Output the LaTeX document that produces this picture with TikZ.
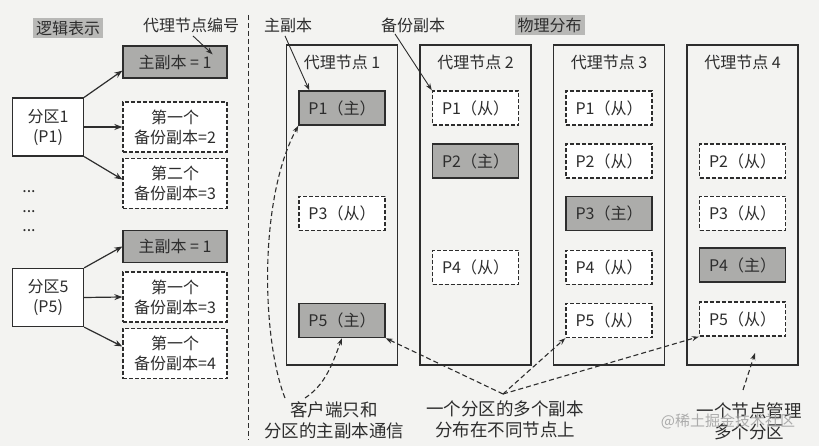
\documentclass[tikz,border=0pt]{standalone}
\usepackage{fontspec}
\setmainfont{Noto Sans CJK SC}
\usetikzlibrary{arrows.meta,calc}
\definecolor{bg}{RGB}{243,243,241}
\definecolor{prim}{RGB}{172,172,170}
\definecolor{lab}{RGB}{184,184,182}
\definecolor{edge}{RGB}{45,45,45}
\definecolor{ink}{RGB}{45,45,45}
\begin{document}
\begin{tikzpicture}[x=1pt,y=-1pt,
  font=\fontsize{16}{20}\selectfont, text=ink,
  box/.style={draw=edge, line width=1.3pt, minimum width=104pt, align=center, inner sep=0pt},
  primbox/.style={box, fill=prim, minimum height=32pt},
  backbox/.style={box, dashed, dash pattern=on 4pt off 2pt, fill=white, minimum height=50pt},
  partbox/.style={draw=edge, line width=1.2pt, fill=white, minimum width=71pt, minimum height=58pt, align=center, inner sep=0pt},
  nodebox/.style={draw=edge, line width=1.2pt, minimum width=111pt, minimum height=320pt, inner sep=0pt},
  rep/.style={draw=edge, line width=1.4pt, minimum width=86pt, minimum height=34pt, inner sep=0pt},
  pr/.style={rep, fill=prim},
  bk/.style={rep, fill=white, dashed, dash pattern=on 4pt off 2pt},
  arr/.style={-{Stealth[length=8pt,width=6pt]}, line width=1.2pt, draw=edge},
  thinarr/.style={-{Stealth[length=7pt,width=5pt,open]}, line width=0.9pt, draw=edge},
  darr/.style={-{Stealth[length=7pt,width=5pt]}, line width=1.1pt, draw=edge, dashed, dash pattern=on 5pt off 3pt},
  tag/.style={fill=lab, inner sep=3pt},
  note/.style={align=center, font=\fontsize{17.5}{21}\selectfont, inner sep=2pt}
]
\fill[bg] (0,0) rectangle (819,446);
\useasboundingbox (0,0) rectangle (819,446);

% ---------- logical view ----------
\node[tag] (logic) at (68,28) {逻辑表示};
\node (numlbl) at (191,25) {代理节点编号};

\node[primbox] (prim1) at (175,62) {主副本 = 1};
\node[partbox] (part1) at (48,127) {分区1\\(P1)};
\node[backbox] (b1a) at (175,127) {第一个\\备份副本=2};
\node[backbox] (b1b) at (175,183.5) {第二个\\备份副本=3};

\node (dots1) at (29,192) {...};
\node (dots2) at (29,212) {...};
\node (dots3) at (29,231) {...};

\node[primbox] (prim5) at (175,246.5) {主副本 = 1};
\node[partbox] (part5) at (48,297.5) {分区5\\(P5)};
\node[backbox] (b5a) at (175,297) {第一个\\备份副本=3};
\node[backbox] (b5b) at (175,353.5) {第一个\\备份副本=4};

\draw[arr] (part1.north east) -- ($(prim1.south west)+(0,-8)$);
\draw[arr] (part1.east) -- (b1a.west);
\draw[arr] (part1.south east) -- ($(b1b.west)+(0,-4)$);
\draw[arr] (part5.north east) -- (prim5.west);
\draw[arr] (part5.east) -- (b5a.west);
\draw[arr] (part5.south east) -- ($(b5b.west)+(0,-7)$);
\draw[thinarr] ($(numlbl.south)+(2,0)$) -- ($(prim1.north east)+(-15,9)$);

% divider
\coordinate (dtop) at (248,15);
\coordinate (dbot) at (248,440);
\draw[draw=edge, line width=1pt, dashed, dash pattern=on 5pt off 3pt] (dtop) -- (dbot);

% ---------- physical view ----------
\node (mainlbl) at (288,25) {主副本};
\node (backlbl) at (413,25) {备份副本};
\node[tag] (phys) at (549.5,25) {物理分布};

\foreach \i/\x in {1/342,2/475.5,3/609,4/742.5}{
  \node[nodebox] (n\i) at (\x,205) {};
  \node (t\i) at (\x,62) {代理节点 \i};
}

% node 1
\node[pr] (n1p1) at (342,108) {P1（主）};
\node[bk] (n1p3) at (342,213.5) {P3（从）};
\node[pr] (n1p5) at (342,320.5) {P5（主）};
% node 2
\node[bk] (n2p1) at (475.5,108) {P1（从）};
\node[pr] (n2p2) at (475.5,161) {P2（主）};
\node[bk] (n2p4) at (475.5,267.5) {P4（从）};
% node 3
\node[bk] (n3p1) at (609,108) {P1（从）};
\node[bk] (n3p2) at (609,161) {P2（从）};
\node[pr] (n3p3) at (609,213.5) {P3（主）};
\node[bk] (n3p4) at (609,267.5) {P4（从）};
\node[bk] (n3p5) at (609,320.5) {P5（从）};
% node 4
\node[bk] (n4p2) at (742.5,161) {P2（从）};
\node[bk] (n4p3) at (742.5,213.5) {P3（从）};
\node[pr] (n4p4) at (742.5,265) {P4（主）};
\node[bk] (n4p5) at (742.5,319) {P5（从）};

\draw[thinarr] ($(mainlbl.south)+(-3,0)$) -- ($(n1p1.north west)+(11,0)$);
\draw[thinarr] ($(backlbl.south)+(-18,-2)$) -- (n2p1.north west);

% notes
\node[note] (note1) at (334,420) {客户端只和\\分区的主副本通信};
\node[note] (note2) at (505,419) {一个分区的多个副本\\分布在不同节点上};
\node[note] (note3) at (749,421) {一个节点管理\\多个分区};
\node[text=gray!75, opacity=0.85, font=\fontsize{15}{18}\selectfont] (wm) at (728,421) {@稀土掘金技术社区};

\coordinate (cA) at (285,398);
\coordinate (cB) at (305,398);
\coordinate (cC) at (503,394);
\coordinate (cD) at (743,390);
\coordinate (cE) at (755,353);
\draw[darr] (cA) .. controls (262,340) and (258,200) .. (n1p1.south west);
\draw[darr] (cB) .. controls (325,385) and (332,365) .. (n1p5.south);
\draw[darr] (cC) -- (n1p5.south east);
\draw[darr] (cC) -- (n3p5.south west);
\draw[darr] (cC) -- (n4p5.south west);
\draw[darr] (cD) -- (cE);
\end{tikzpicture}
\end{document}
